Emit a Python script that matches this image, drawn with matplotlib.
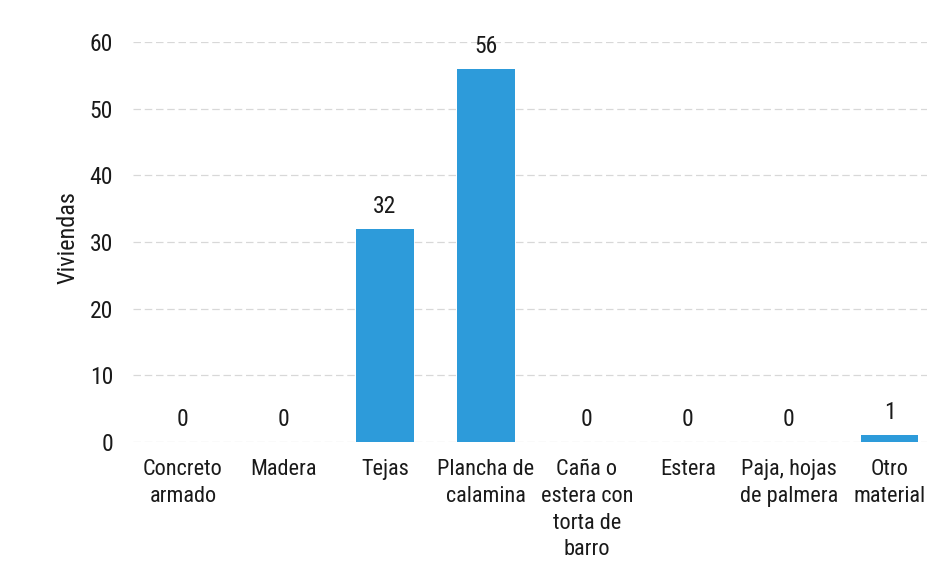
import matplotlib
matplotlib.use("Agg")
import matplotlib.pyplot as plt
from matplotlib import font_manager

categories = ["Concreto\narmado", "Madera", "Tejas", "Plancha de\ncalamina",
              "Caña o\nestera con\ntorta de\nbarro", "Estera", "Paja, hojas\nde palmera",
              "Otro\nmaterial"]
values = [0, 0, 32, 56, 0, 0, 0, 1]
yticks = [0, 10, 20, 30, 40, 50, 60]

names = {f.name for f in font_manager.fontManager.ttflist}
fam = ["Liberation Sans Narrow", "Arial Narrow", "Roboto Condensed",
       "Liberation Sans", "DejaVu Sans"]
fam = [f for f in fam if f in names] or ["DejaVu Sans"]
plt.rcParams["font.family"] = fam

W, H = 927, 562
fig = plt.figure(figsize=(W / 100, H / 100), dpi=100)
left = 132.5 / W
bottom = (H - 442) / H
height = 400 / H
ax = fig.add_axes([left, bottom, 1 - left, height])

x = list(range(len(categories)))
bar_color = "#2d9bda"
ax.bar(x, values, width=0.57, color=bar_color, zorder=3)

for xi, v in zip(x, values):
    ax.annotate(str(v), (xi, v), xytext=(0, 8), textcoords="offset points",
                ha="center", va="bottom", fontsize=17, color="#1a1a1a")

ax.set_xlim(-0.5, 7.37)
ax.set_ylim(0, 60)
ax.set_yticks(yticks)
ax.set_yticklabels([str(t) for t in yticks])
ax.set_xticks(x)
ax.set_xticklabels(categories, fontsize=16, color="#1a1a1a", linespacing=1.35)
ax.tick_params(axis="x", length=0, pad=12.5)
ax.tick_params(axis="y", length=0, pad=14, labelsize=17, labelcolor="#1a1a1a")

for s in ax.spines.values():
    s.set_visible(False)
ax.yaxis.grid(True, color="#d8d8d8", linewidth=0.9, linestyle=(0, (6, 3)), zorder=0)
ax.set_axisbelow(True)

ax.set_ylabel("Viviendas", fontsize=17.5, color="#1a1a1a")
ax.yaxis.set_label_coords(-0.067, 0.51)

fig.savefig("out.png", dpi=100)
